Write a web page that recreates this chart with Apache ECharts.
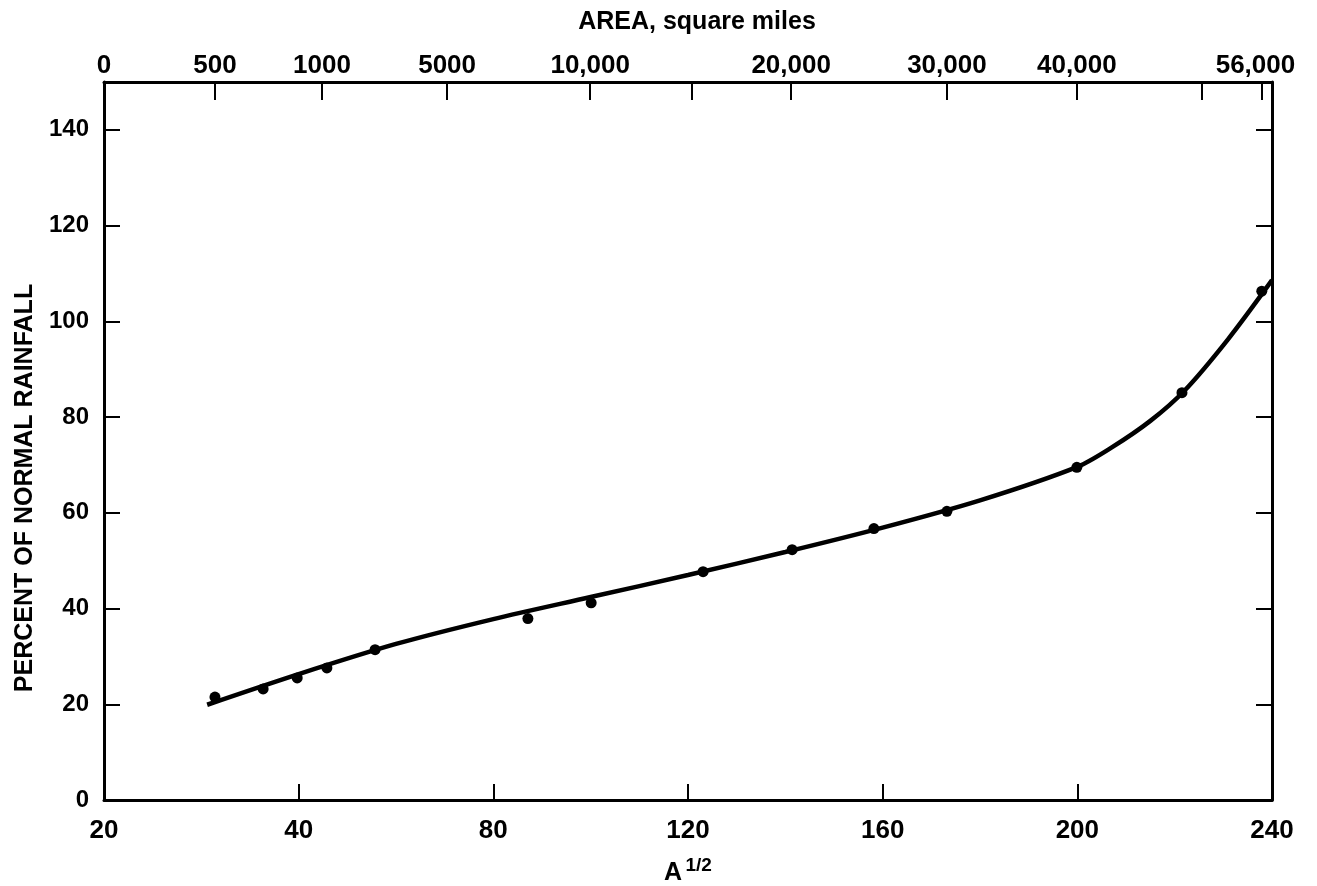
<!DOCTYPE html>
<html>
<head>
<meta charset="utf-8">
<script src="https://cdn.jsdelivr.net/npm/echarts@6/dist/echarts.min.js"></script>
<style>
  html, body { margin: 0; padding: 0; background: #fff; }
  #chart { width: 1317px; height: 886px; }
</style>
</head>
<body>
<div id="chart"></div>
<script>
// Observed storm points: square root of area vs. percent of normal rainfall
const pointX = [22.8, 32.7, 39.7, 45.8, 55.7, 87.1, 100.1, 123.1, 141.4, 158.2, 173.2, 199.9, 221.5, 237.9];
const pointY = [21.5, 23.2, 25.5, 27.6, 31.4, 37.9, 41.2, 47.7, 52.3, 56.7, 60.3, 69.5, 85.1, 106.3];

// Fitted curve through the points
const curveX = [21.2, 40.0, 60.0, 80.0, 100.0, 120.0, 140.0, 160.0, 180.0, 200.0, 207.0, 215.0, 222.0, 231.0, 240.0];
const curveY = [19.9, 26.3, 32.6, 37.8, 42.4, 47.0, 51.8, 56.9, 62.6, 69.6, 73.6, 79.2, 85.5, 96.3, 108.6];

// Bottom axis (A^1/2) ticks and labels
const bottomTickPos = [40, 80, 120, 160, 200];
const bottomLabelPos = [0, 40, 80, 120, 160, 200, 240];
const bottomLabels = ['20', '40', '80', '120', '160', '200', '240'];

// Top axis (area, square miles) placed at A^1/2 positions
const topTickPos = [22.8, 44.8, 70.5, 99.9, 120.8, 141.2, 173.2, 199.9, 225.6, 237.9];
const topLabelPos = [0, 22.8, 44.8, 70.5, 99.9, 141.2, 173.2, 199.9, 236.6];
const topLabels = ['0', '500', '1000', '5000', '10,000', '20,000', '30,000', '40,000', '56,000'];

// Percent axis ticks
const yTickPos = [0, 20, 40, 60, 80, 100, 120, 140];

const FONT = 'Liberation Sans';
const INK = '#000';

function lookup(positions, labels) {
  return function (v) {
    for (let i = 0; i < positions.length; i++) {
      if (Math.abs(positions[i] - v) < 1e-6) return labels[i];
    }
    return '';
  };
}

const chart = echarts.init(document.getElementById('chart'), null, { renderer: 'canvas' });

const axisLineStyle = { color: INK, width: 3 };
const tickStyle = { color: INK, width: 2 };

chart.setOption({
  backgroundColor: '#fff',
  animation: false,
  grid: { left: 104, right: 45, top: 82, bottom: 86, containLabel: false, outerBoundsMode: 'none' },
  xAxis: [
    {
      type: 'value', position: 'bottom', min: 0, max: 240,
      name: '{a|A} {s|1/2}',
      nameLocation: 'middle', nameGap: 56,
      nameTextStyle: {
        rich: {
          a: { fontFamily: FONT, fontWeight: 'bold', fontSize: 25, color: INK, lineHeight: 30, verticalAlign: 'bottom' },
          s: { fontFamily: FONT, fontWeight: 'bold', fontSize: 19, color: INK, lineHeight: 30, verticalAlign: 'top', padding: [0, 0, 14, 0] }
        }
      },
      axisLine: { show: true, onZero: false, lineStyle: axisLineStyle },
      axisTick: { show: true, inside: true, length: 16, lineStyle: tickStyle, customValues: bottomTickPos },
      axisLabel: {
        show: true, margin: 18, fontFamily: FONT, fontWeight: 'bold', fontSize: 26, color: INK,
        customValues: bottomLabelPos, formatter: lookup(bottomLabelPos, bottomLabels)
      },
      splitLine: { show: false }
    },
    {
      type: 'value', position: 'top', min: 0, max: 240,
      name: 'AREA, square miles',
      nameLocation: 'middle', nameGap: 47,
      nameTextStyle: { fontFamily: FONT, fontWeight: 'bold', fontSize: 25, color: INK, padding: [0, 0, 0, 18] },
      axisLine: { show: true, onZero: false, lineStyle: axisLineStyle },
      axisTick: { show: true, inside: true, length: 18, lineStyle: tickStyle, customValues: topTickPos },
      axisLabel: {
        show: true, margin: 3, fontFamily: FONT, fontWeight: 'bold', fontSize: 26, color: INK,
        customValues: topLabelPos, formatter: lookup(topLabelPos, topLabels)
      },
      splitLine: { show: false }
    }
  ],
  yAxis: [
    {
      type: 'value', position: 'left', min: 0, max: 150,
      axisLine: { show: true, onZero: false, lineStyle: axisLineStyle },
      axisTick: { show: true, inside: true, length: 16, lineStyle: tickStyle, customValues: yTickPos.slice(1) },
      axisLabel: { show: true, margin: 15, fontFamily: FONT, fontWeight: 'bold', fontSize: 24, color: INK, customValues: yTickPos },
      splitLine: { show: false }
    },
    {
      type: 'value', position: 'right', min: 0, max: 150,
      axisLine: { show: true, onZero: false, lineStyle: axisLineStyle },
      axisTick: { show: true, inside: true, length: 16, lineStyle: tickStyle, customValues: yTickPos.slice(1) },
      axisLabel: { show: false },
      splitLine: { show: false }
    }
  ],
  graphic: [
    {
      type: 'text', x: 25, y: 488, rotation: Math.PI / 2,
      style: {
        text: 'PERCENT OF NORMAL RAINFALL', fontFamily: FONT, fontWeight: 'bold', fontSize: 25, fill: INK,
        align: 'center', verticalAlign: 'middle'
      }
    }
  ],
  series: [
    {
      name: 'Fitted curve', type: 'line', xAxisIndex: 0, yAxisIndex: 0,
      data: curveX.map((x, i) => [x, curveY[i]]),
      smooth: 0.3, showSymbol: false, symbol: 'none',
      lineStyle: { color: INK, width: 4.5 }, z: 3
    },
    {
      name: 'Observed', type: 'scatter', xAxisIndex: 0, yAxisIndex: 0,
      data: pointX.map((x, i) => [x, pointY[i]]),
      symbol: 'circle', symbolSize: 11,
      itemStyle: { color: INK, opacity: 1 }, z: 4
    }
  ]
});
</script>
</body>
</html>
